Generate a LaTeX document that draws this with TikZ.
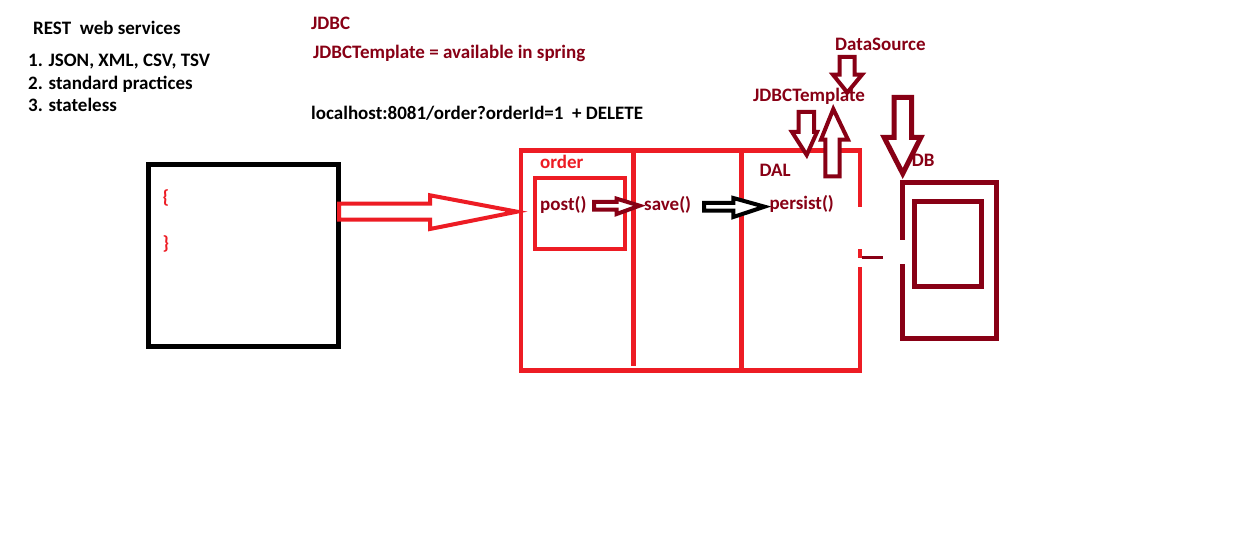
\documentclass[tikz,border=0pt]{standalone}
\usepackage{fontspec}
\setmainfont{Carlito}
\definecolor{pred}{HTML}{ED1C24}
\definecolor{pdark}{HTML}{880015}
\begin{document}
\begin{tikzpicture}[x=1pt,y=-1pt,
  txt/.style={anchor=base west, inner sep=0pt, font=\fontsize{19}{22}\selectfont\bfseries},
  boxline/.style={draw, inner sep=0pt, line join=miter},
  blockarrow/.style={line width=4pt, line join=miter, fill=white}]
\useasboundingbox (0,0) rectangle (1247,553);
\fill[white] (0,0) rectangle (1247,553);

% client box
\node[boxline, draw=black, line width=5pt, minimum width=189.5pt, minimum height=182pt] (client) at (243.25,255.5) {};

% order container
\node[boxline, draw=pred, line width=4.5pt, minimum width=339pt, minimum height=220pt] (app) at (690.5,260.5) {};
\coordinate (d1top) at (633.5,150.5);
\coordinate (d1bot) at (633.5,366);
\coordinate (d2top) at (741.5,150.5);
\coordinate (d2bot) at (741.5,370.5);
\draw[pred, line width=5pt] (d1top) -- (d1bot);
\draw[pred, line width=5pt] (d2top) -- (d2bot);
\node[boxline, draw=pred, line width=4pt, minimum width=90pt, minimum height=71pt] (postbox) at (580,213.5) {};

% DB
\node[boxline, draw=pdark, line width=5pt, minimum width=94pt, minimum height=155.5pt] (db) at (949.5,260.25) {};
\node[boxline, draw=pdark, line width=5pt, minimum width=67.5pt, minimum height=85pt] (dbin) at (947.75,244) {};

% erased areas
\fill[white] (854,207) rectangle (880,249);
\fill[white] (854,258) rectangle (880,267);
\fill[white] (898,240) rectangle (912,264);
\coordinate (fragA) at (862,257.5);
\coordinate (fragB) at (883,257.5);
\draw[pdark, line width=3pt] (fragA) -- (fragB);

% big red arrow client -> order
\coordinate (bigtip) at (517,211.7);
\draw[blockarrow, draw=pred] (339,203.7) -- (430,203.7) -- (430,195.3) -- (bigtip) -- (430,229) -- (430,219.7) -- (339,219.7) -- cycle;

% post -> save
\coordinate (pstip) at (639.5,205.7);
\draw[blockarrow, draw=pdark] (594,202) -- (616.7,202) -- (616.7,198.7) -- (pstip) -- (616.7,214) -- (616.7,209.7) -- (594,209.7) -- cycle;

% save -> persist
\coordinate (sptip) at (764.5,206.7);
\draw[blockarrow, draw=black] (704,203) -- (733.3,203) -- (733.3,198) -- (sptip) -- (733.3,217) -- (733.3,210.7) -- (704,210.7) -- cycle;

% vertical block arrows
\coordinate (atip) at (847.3,92.5);
\draw[blockarrow, draw=pdark] (839.7,57) -- (854.7,57) -- (854.7,74.7) -- (862,74.7) -- (atip) -- (833,74.7) -- (839.7,74.7) -- cycle;
\coordinate (btip) at (806.7,155);
\draw[blockarrow, draw=pdark] (798.7,112) -- (814,112) -- (814,132) -- (817,132) -- (btip) -- (792,132) -- (798.7,132) -- cycle;
\coordinate (ctip) at (833.3,109);
\draw[blockarrow, draw=pdark] (825.3,176.3) -- (839.7,176.3) -- (839.7,139.7) -- (848,139.7) -- (ctip) -- (821,139.7) -- (825.3,139.7) -- cycle;
\coordinate (dtip) at (902.7,173.5);
\draw[blockarrow, draw=pdark, line width=5pt] (894.2,97.5) -- (911.5,97.5) -- (911.5,137.5) -- (920.8,137.5) -- (dtip) -- (884.2,137.5) -- (894.2,137.5) -- cycle;

% texts
\node[txt] (t1) at (33,35) {REST\ \ web services};
\node[txt] (t2) at (28,67) {1. JSON, XML, CSV, TSV};
\node[txt] (t3) at (28,89.5) {2. standard practices};
\node[txt] (t4) at (28,112) {3. stateless};
\node[txt, text=pdark] (t5) at (311,30) {JDBC};
\node[txt, text=pdark] (t6) at (313,58.3) {JDBCTemplate = available in spring};
\node[txt] (t7) at (311,120) {localhost:8081/order?orderId=1\ \ + DELETE};
\node[txt, text=pdark] (t8) at (835,50.7) {DataSource};
\node[txt, text=pdark] (t9) at (753,101.7) {JDBCTemplate};
\node[txt, text=pdark] (t10) at (911.7,166.7) {DB};
\node[txt, text=pdark] (t11) at (759.3,176.7) {DAL};
\node[txt, text=pred] (t12) at (540,168.3) {order};
\node[txt, text=pdark] (t13) at (540,210.5) {post()};
\node[txt, text=pdark] (t14) at (644,210.5) {save()};
\node[txt, text=pdark] (t15) at (769.3,210) {persist()};
\node[txt, text=pred] (t16) at (162.3,204) {\{};
\node[txt, text=pred] (t17) at (162.3,250) {\}};
\end{tikzpicture}
\end{document}
